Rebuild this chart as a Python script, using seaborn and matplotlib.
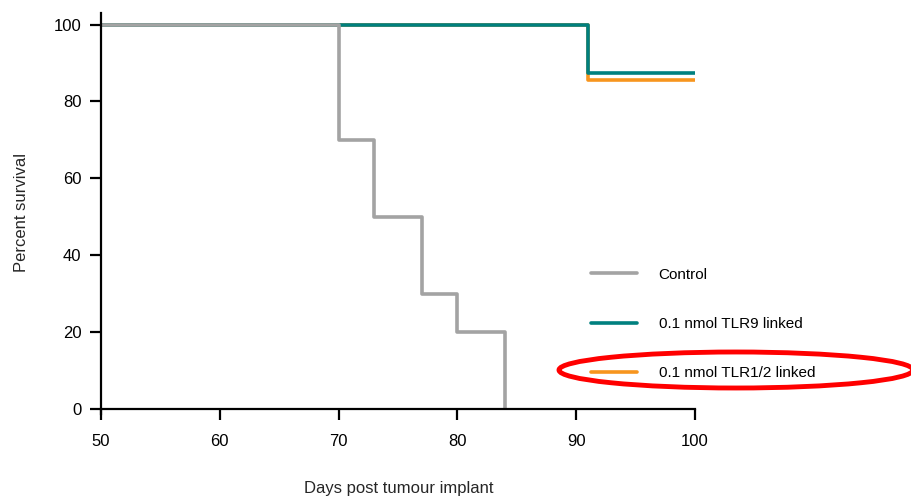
import numpy as np
import pandas as pd
import matplotlib
matplotlib.use("Agg")
import matplotlib.pyplot as plt
import seaborn as sns
from matplotlib.lines import Line2D
from matplotlib.patches import Ellipse

# survival step data (days, percent)
control_days = [50, 70, 73, 77, 80, 84]
control_surv = [100, 70, 50, 30, 20, 0]
tlr9_days = [50, 91, 100]
tlr9_surv = [100, 87.5, 87.5]
tlr12_days = [50, 91, 100]
tlr12_surv = [100, 85.7, 85.7]

groups = ["Control", "0.1 nmol TLR9 linked", "0.1 nmol TLR1/2 linked"]
colors = {"Control": "#a3a3a3", "0.1 nmol TLR9 linked": "#00807f",
          "0.1 nmol TLR1/2 linked": "#f7951e"}

df = pd.concat([
    pd.DataFrame({"day": control_days, "surv": control_surv, "group": groups[0]}),
    pd.DataFrame({"day": tlr9_days, "surv": tlr9_surv, "group": groups[1]}),
    pd.DataFrame({"day": tlr12_days, "surv": tlr12_surv, "group": groups[2]}),
])

sns.set_theme(style="ticks")
plt.rcParams["font.family"] = ["Liberation Sans", "DejaVu Sans"]

fig = plt.figure(figsize=(9.11, 4.98), dpi=100)
ax = fig.add_axes([101 / 911, 1 - 414 / 498, (695 - 101) / 911, (414 - 13) / 498])

# draw order: orange under teal under gray
sns.lineplot(data=df, x="day", y="surv", hue="group",
             hue_order=[groups[2], groups[1], groups[0]], palette=colors,
             estimator=None, sort=False, drawstyle="steps-post",
             linewidth=2.6, legend=False, ax=ax)
for ln in ax.lines:
    ln.set_clip_on(False)
    ln.set_solid_capstyle("butt")

ax.set_xlim(50, 100)
ax.set_ylim(-1.3, 103)
ax.set_xticks([50, 60, 70, 80, 90, 100])
ax.set_yticks([0, 20, 40, 60, 80, 100])
ax.spines["bottom"].set_position(("data", 0))
ax.spines["right"].set_visible(False)
ax.spines["top"].set_visible(False)
for s in ["left", "bottom"]:
    ax.spines[s].set_linewidth(1.6)
    ax.spines[s].set_color("black")
ax.tick_params(axis="both", length=8, width=1.6, labelsize=12, colors="black")
ax.tick_params(axis="x", pad=10)
ax.tick_params(axis="y", pad=6)
ax.set_xlabel("")
ax.set_ylabel("")

fig.text(399 / 911, 1 - 488 / 498, "Days post tumour implant", ha="center", va="center", fontsize=12)
fig.text(22 / 911, 1 - 213 / 498, "Percent survival", ha="center", va="center",
         rotation=90, fontsize=12)

handles = [Line2D([], [], color=colors[g], linewidth=2.6) for g in groups]
fig.legend(handles, groups, loc="upper left", bbox_to_anchor=(577 / 911, 1 - 254 / 498),
           frameon=False, fontsize=11, handlelength=3.0, handletextpad=1.45,
           labelspacing=2.3, labelcolor="black")

# red annotation ellipse around the TLR1/2 legend entry
ell = Ellipse((736 / 911, 1 - 370 / 498), width=354 / 911, height=36 / 498,
              transform=fig.transFigure, fill=False, edgecolor="#ff0000", linewidth=3.5)
fig.patches.append(ell)

fig.savefig("out.png", dpi=100)
